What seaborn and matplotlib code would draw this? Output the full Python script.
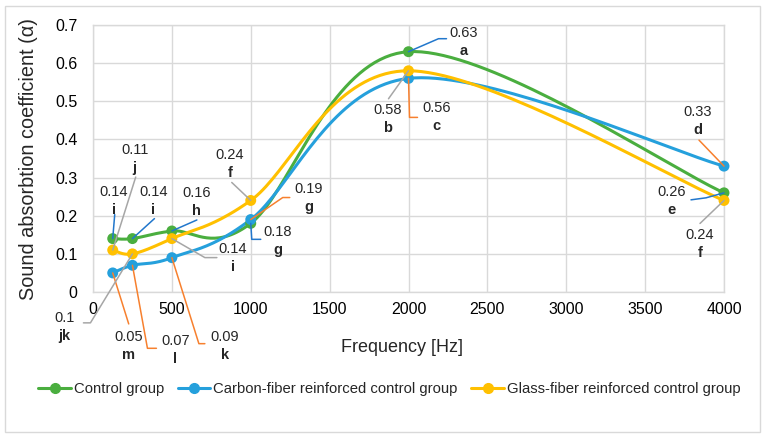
import numpy as np
import pandas as pd
import matplotlib.pyplot as plt
import seaborn as sns
from matplotlib.lines import Line2D
from matplotlib.patches import Rectangle
from matplotlib.transforms import IdentityTransform

# data
freq = [125, 250, 500, 1000, 2000, 4000]
control = [0.14, 0.14, 0.16, 0.18, 0.63, 0.26]
carbon = [0.05, 0.07, 0.09, 0.19, 0.56, 0.33]
glass = [0.11, 0.10, 0.14, 0.24, 0.58, 0.24]

control_letters = ['i', 'i', 'h', 'g', 'a', 'e']
carbon_letters = ['m', 'l', 'k', 'g', 'c', 'd']
glass_letters = ['j', 'jk', 'i', 'f', 'b', 'f']

names = ['Control group', 'Carbon-fiber reinforced control group',
         'Glass-fiber reinforced control group']
colors = ['#4aae3f', '#25a0dc', '#ffc000']

sns.set_theme(style='white')
plt.rcParams['font.family'] = ['Liberation Sans', 'DejaVu Sans']


def smooth_curve(x, y, n=40):
    # Excel-style smoothed line: Catmull-Rom segments as cubic Beziers
    p = np.column_stack([x, y]).astype(float)
    pts = []
    for i in range(len(p) - 1):
        p0 = p[i - 1] if i > 0 else p[i]
        p1, p2 = p[i], p[i + 1]
        p3 = p[i + 2] if i + 2 < len(p) else p[i + 1]
        c1 = p1 + (p2 - p0) / 6
        c2 = p2 - (p3 - p1) / 6
        t = np.linspace(0, 1, n)[:, None]
        seg = ((1 - t) ** 3) * p1 + 3 * ((1 - t) ** 2) * t * c1 \
            + 3 * (1 - t) * t ** 2 * c2 + t ** 3 * p2
        pts.append(seg if i == 0 else seg[1:])
    pts = np.vstack(pts)
    return pts[:, 0], pts[:, 1]


fig = plt.figure(figsize=(7.68, 4.37), dpi=100)
W, H = 768, 437
ax = fig.add_axes([93 / W, 1 - 292 / H, 631 / W, 267 / H])

series = [control, carbon, glass]
for vals, name, col in zip(series, names, colors):
    sx, sy = smooth_curve(freq, vals)
    curve = pd.DataFrame({'f': sx, 'a': sy})
    sns.lineplot(data=curve, x='f', y='a', sort=False, color=col, lw=2.2,
                 ax=ax, zorder=3, legend=False)
    pts = pd.DataFrame({'f': freq, 'a': vals})
    sns.scatterplot(data=pts, x='f', y='a', color=col, s=62, edgecolor='none',
                    ax=ax, zorder=5, legend=False, clip_on=False)

ax.set_xlim(0, 4000)
ax.set_ylim(0, 0.7)
ax.autoscale(False)
ax.set_xticks(np.arange(0, 4001, 500))
ax.set_yticks(np.arange(0, 0.71, 0.1))
ax.set_yticklabels(['0', '0.1', '0.2', '0.3', '0.4', '0.5', '0.6', '0.7'])
ax.grid(True, color='#d9d9d9', lw=1)
for s in ax.spines.values():
    s.set_color('#d9d9d9')
    s.set_linewidth(1)
ax.tick_params(axis='both', length=0, labelsize=11.5, colors='#000000')
ax.tick_params(axis='y', pad=11)
ax.tick_params(axis='x', pad=7)
ax.set_xlabel('Frequency [Hz]', fontsize=13)
ax.set_ylabel('Sound absorbtion coefficient (α)', fontsize=14.3)
ax.xaxis.set_label_coords(0.49, -0.176)
ax.yaxis.set_label_coords(-0.087, 0.5)

# label layout: text offset and leader line (pixels, y down) from the point
blue_l, orange_l, gray_l = '#2277cc', '#f7802e', '#a6a6a6'
layout = [
    (control, control_letters, blue_l, [
        ((1, -47), [(2, -24), (0, 0)]),
        ((21, -47), [(22, -20), (0, 0)]),
        ((25, -38), [(25, -11), (0, 0)]),
        ((27, 9), [(0, 0), (1, 16), (10, 16)]),
        ((55, -19), [(0, 0), (30, -13), (38, -13)]),
        ((-52, -1), [(-33, 7), (-18, 5), (0, 0)]),
    ]),
    (carbon, carbon_letters, orange_l, [
        ((16, 64), [(0, 0), (16, 51)]),
        ((43, 76), [(0, 0), (15, 83), (24, 83)]),
        ((53, 79), [(0, 0), (27, 86), (33, 86)]),
        ((58, -31), [(0, 0), (32, -22), (39, -22)]),
        ((28, 30), [(0, 0), (1, 39), (9, 39)]),
        ((-26, -54), [(-25, -26), (0, 0)]),
    ]),
    (glass, glass_letters, gray_l, [
        ((22, -100), [(23, -73), (0, 0)]),
        ((-68, 64), [(0, 0), (-42, 69), (-49, 69)]),
        ((61, 10), [(0, 0), (33, 19), (45, 19)]),
        ((-21, -45), [(-19, -18), (0, 0)]),
        ((-21, 39), [(-20, 28), (0, 0)]),
        ((-24, 35), [(-24, 23), (0, 0)]),
    ]),
]

for vals, letters, lcol, items in layout:
    for i, ((tx, ty), leader) in enumerate(items):
        px, py = ax.transData.transform((freq[i], vals[i]))
        lx = [px + dx for dx, dy in leader]
        ly = [py - dy for dx, dy in leader]
        fig.add_artist(Line2D(lx, ly, color=lcol, lw=1.1,
                              transform=IdentityTransform(), zorder=4))
        num = ('%.2f' % vals[i]).rstrip('0') if vals[i] == 0.1 else '%.2f' % vals[i]
        fig.text(px + tx, py - ty, num, transform=IdentityTransform(),
                 ha='center', va='center', fontsize=10.5, zorder=6)
        fig.text(px + tx, py - ty - 18, letters[i], transform=IdentityTransform(),
                 ha='center', va='center', fontsize=10.5, fontweight='bold',
                 zorder=6)

handles = [Line2D([], [], color=c, lw=2.2, marker='o', markersize=7)
           for c in colors]
fig.legend(handles, names, loc='center', ncol=3, frameon=False,
           bbox_to_anchor=(389.5 / W, 1 - 389 / H), fontsize=10.7,
           handlelength=2.2, handletextpad=0.2, columnspacing=0.9)

fig.add_artist(Rectangle((5 / W, 5 / H), 755 / W, 426 / H, fill=False,
                         edgecolor='#d9d9d9', lw=1, transform=fig.transFigure))

fig.savefig('out.png', dpi=100)
